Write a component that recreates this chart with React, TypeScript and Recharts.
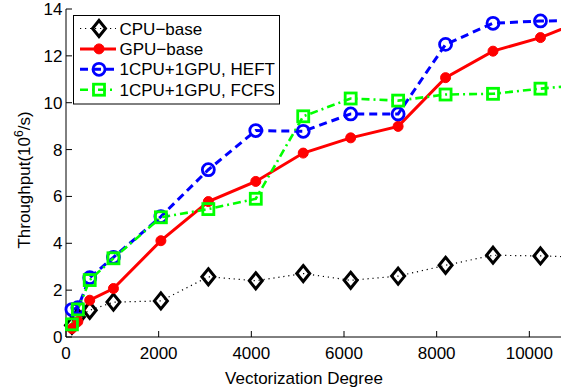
import { LineChart, Line, XAxis, YAxis, Legend } from 'recharts';

const vecDegree = [128, 256, 512, 1024, 2048, 3072, 4096, 5120, 6144, 7168, 8192, 9216, 10240, 11264];
const cpuBase = [0.5, 0.85, 1.14, 1.49, 1.54, 2.57, 2.4, 2.71, 2.42, 2.6, 3.06, 3.49, 3.46, 3.4];
const gpuBase = [0.36, 0.66, 1.57, 2.07, 4.11, 5.78, 6.64, 7.85, 8.5, 8.99, 11.07, 12.2, 12.78, 13.6];
const heft = [1.17, 1.25, 2.53, 3.4, 5.14, 7.14, 8.81, 8.78, 9.52, 9.52, 12.49, 13.39, 13.49, 13.5];
const fcfs = [0.54, 1.18, 2.43, 3.36, 5.11, 5.46, 5.9, 9.42, 10.18, 10.09, 10.35, 10.38, 10.6, 10.78];
const seriesNames = ['CPU−base', 'GPU−base', '1CPU+1GPU, HEFT', '1CPU+1GPU, FCFS'];
const xTicks = [0, 2000, 4000, 6000, 8000, 10000];
const yTicks = [0, 2, 4, 6, 8, 10, 12, 14];

const data = vecDegree.map((x, i) => ({
  x,
  cpu: cpuBase[i],
  gpu: gpuBase[i],
  heft: heft[i],
  fcfs: fcfs[i],
}));

const FONT = '"Liberation Sans", Arial, Helvetica, sans-serif';
const RED = '#ff0000';
const BLUE = '#0000ff';
const GREEN = '#00ff00';

type Kind = 'diamond' | 'dot' | 'circle' | 'square';

function Marker({ kind, cx, cy }: { kind: Kind; cx: number; cy: number }) {
  if (kind === 'diamond') {
    return (
      <path
        d={`M${cx},${cy - 8} L${cx + 6.5},${cy} L${cx},${cy + 8} L${cx - 6.5},${cy} Z`}
        fill="none"
        stroke="#000"
        strokeWidth={3}
      />
    );
  }
  if (kind === 'dot') return <circle cx={cx} cy={cy} r={5} fill={RED} stroke={RED} />;
  if (kind === 'circle')
    return <circle cx={cx} cy={cy} r={6} fill="none" stroke={BLUE} strokeWidth={2.8} />;
  return (
    <rect x={cx - 5.5} y={cy - 5.5} width={11} height={11} fill="none" stroke={GREEN} strokeWidth={2.8} />
  );
}

const styles = [
  { key: 'cpu', color: '#000', width: 1.2, dash: '1.2 3.8', kind: 'diamond' as Kind },
  { key: 'gpu', color: RED, width: 3, dash: undefined, kind: 'dot' as Kind },
  { key: 'heft', color: BLUE, width: 3, dash: '8 5', kind: 'circle' as Kind },
  { key: 'fcfs', color: GREEN, width: 2.6, dash: '8 4 2 4', kind: 'square' as Kind },
];

function LegendBox() {
  return (
    <svg width={208} height={90} style={{ display: 'block', fontFamily: FONT }}>
      <rect x={0.5} y={0.5} width={206} height={88.5} fill="#fff" stroke="#000" />
      {styles.map((s, i) => {
        const cy = 13.5 + i * 20.4;
        return (
          <g key={s.key}>
            <line
              x1={7}
              x2={43}
              y1={cy}
              y2={cy}
              stroke={s.color}
              strokeWidth={s.width}
              strokeDasharray={s.dash}
            />
            <Marker kind={s.kind} cx={26} cy={cy} />
            <text x={46.5} y={cy} dy="0.355em" fontSize={17} fill="#000">
              {seriesNames[i]}
            </text>
          </g>
        );
      })}
    </svg>
  );
}

const BottomTick = (props: any) => {
  const { x, y, payload } = props;
  return (
    <g>
      <line x1={x} x2={x} y1={337} y2={331} stroke="#000" />
      <text x={x} y={y} dy="0.71em" textAnchor="middle" fontSize={17} fill="#000" fontFamily={FONT}>
        {payload.value}
      </text>
    </g>
  );
};

const TopTick = (props: any) => {
  const { x } = props;
  return <line x1={x} x2={x} y1={9} y2={15} stroke="#000" />;
};

const LeftTick = (props: any) => {
  const { x, y, payload } = props;
  return (
    <g>
      <line x1={66} x2={72} y1={y} y2={y} stroke="#000" />
      <text x={x} y={y} dy="0.355em" textAnchor="end" fontSize={17} fill="#000" fontFamily={FONT}>
        {payload.value}
      </text>
    </g>
  );
};

export default function App() {
  return (
    <div
      style={{
        position: 'absolute',
        left: 0,
        top: 0,
        width: 561,
        height: 389,
        overflow: 'hidden',
        background: '#fff',
      }}
    >
      <LineChart
        width={632}
        height={389}
        data={data}
        margin={{ top: 9, right: 10, left: 0, bottom: 0 }}
        style={{ fontFamily: FONT }}
      >
        <XAxis
          dataKey="x"
          type="number"
          domain={[0, 12000]}
          ticks={xTicks}
          height={52}
          tickSize={0}
          tickMargin={9.5}
          tickLine={false}
          axisLine={{ stroke: '#000' }}
          tick={BottomTick}
          interval={0}
          label={{
            content: () => (
              <text x={304} y={384} textAnchor="middle" fontSize={17} fill="#000" fontFamily={FONT}>
                Vectorization Degree
              </text>
            ),
          }}
        />
        <XAxis
          xAxisId="top"
          orientation="top"
          dataKey="x"
          type="number"
          domain={[0, 12000]}
          ticks={xTicks}
          height={0}
          tickSize={0}
          tickMargin={0}
          tickLine={false}
          axisLine={{ stroke: '#000' }}
          tick={TopTick}
          interval={0}
        />
        <YAxis
          type="number"
          domain={[0, 14]}
          ticks={yTicks}
          width={66}
          tickSize={0}
          tickMargin={3.5}
          tickLine={false}
          axisLine={{ stroke: '#000' }}
          tick={LeftTick}
          interval={0}
          label={{
            content: () => (
              <text
                transform="translate(30,180) rotate(-90)"
                textAnchor="middle"
                fontSize={17}
                fill="#000"
                fontFamily={FONT}
              >
                Throughput(10
                <tspan fontSize={12} dy={-7}>
                  6
                </tspan>
                <tspan dy={7}>/s)</tspan>
              </text>
            ),
          }}
        />
        <Legend
          layout="vertical"
          align="center"
          verticalAlign="middle"
          content={() => <LegendBox />}
          wrapperStyle={{ left: 72.5, top: 15, width: 208, height: 90 }}
        />
        {styles.map((s) => (
          <Line
            key={s.key}
            dataKey={s.key}
            type="linear"
            stroke={s.color}
            strokeWidth={s.width}
            strokeDasharray={s.dash}
            isAnimationActive={false}
            activeDot={false}
            dot={(p: any) => <Marker key={`${s.key}-${p.index}`} kind={s.kind} cx={p.cx} cy={p.cy} />}
          />
        ))}
      </LineChart>
    </div>
  );
}
